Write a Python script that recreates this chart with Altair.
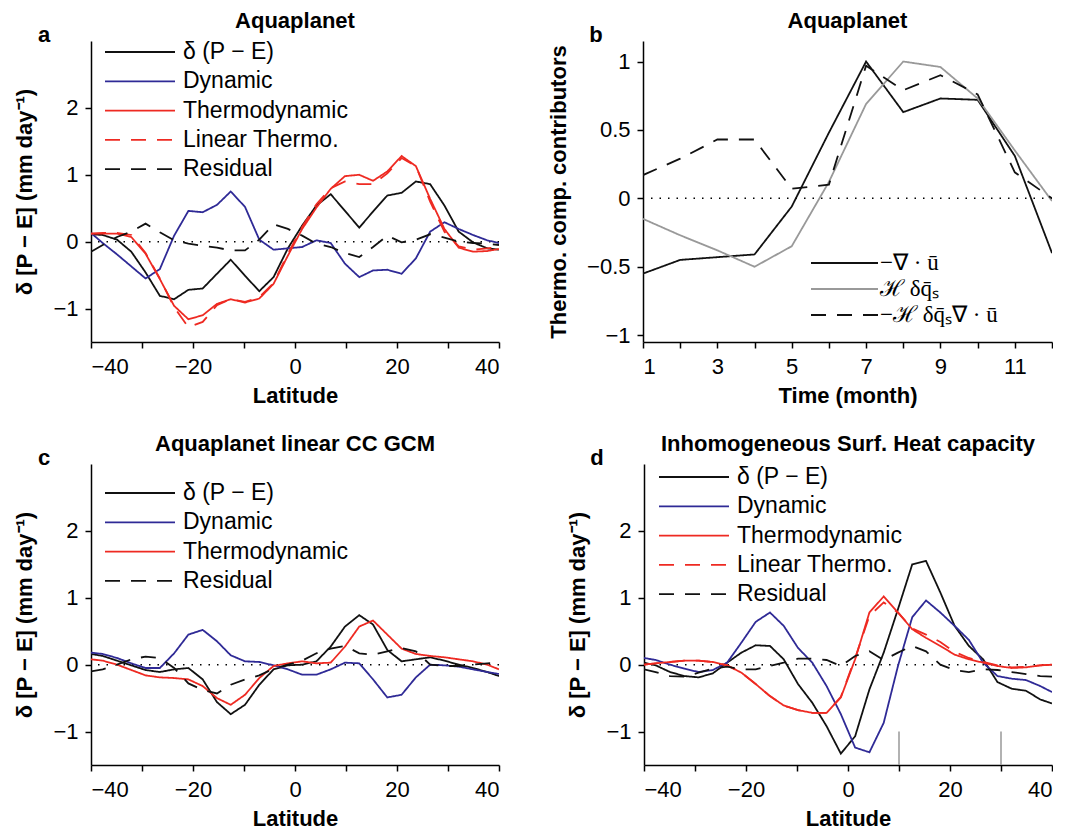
import altair as alt
import pandas as pd

FONT = "Liberation Sans"
BLACK = "#111111"
BLUE = "#2f2a96"
RED = "#ee2a22"
GRAY = "#999999"
SOLID = [1, 0]
DASH = [15, 11]

LAT = [-40, -37.7, -34.9, -32.1, -29.3, -26.5, -23.7, -20.9, -18.1, -15.3,
       -12.6, -9.8, -7.0, -4.2, -1.4, 1.4, 4.2, 7.0, 9.8, 12.6,
       15.3, 18.1, 20.9, 23.7, 26.5, 29.3, 32.1, 34.9, 37.7, 40]

# Panel a: Aquaplanet
A_PE = [0.11, 0.10, 0.03, -0.15, -0.46, -0.81, -0.86, -0.72, -0.70, -0.48,
        -0.27, -0.51, -0.74, -0.53, -0.10, 0.24, 0.54, 0.71, 0.46, 0.21,
        0.45, 0.69, 0.73, 0.90, 0.86, 0.54, 0.15, -0.01, -0.10, -0.12]
A_DYN = [0.13, -0.02, -0.19, -0.37, -0.55, -0.41, 0.09, 0.46, 0.44, 0.55,
         0.75, 0.52, 0.03, -0.12, -0.10, -0.08, 0.02, -0.02, -0.33, -0.53,
         -0.43, -0.42, -0.48, -0.25, 0.15, 0.29, 0.19, 0.10, 0.02, -0.02]
A_THERMO = [0.12, 0.12, 0.12, 0.07, -0.18, -0.56, -0.96, -1.16, -1.10, -0.93,
            -0.86, -0.91, -0.85, -0.63, -0.21, 0.19, 0.51, 0.79, 0.98, 1.00,
            0.91, 1.05, 1.28, 1.13, 0.64, 0.19, -0.09, -0.15, -0.14, -0.11]
A_LIN = [0.12, 0.13, 0.13, 0.10, -0.17, -0.55, -0.98, -1.28, -1.20, -0.95,
         -0.86, -0.90, -0.83, -0.62, -0.18, 0.22, 0.56, 0.80, 0.90, 0.86,
         0.86, 1.02, 1.25, 1.13, 0.60, 0.15, -0.07, -0.12, -0.10, -0.08]
A_RES = [-0.15, -0.05, 0.07, 0.15, 0.27, 0.14, 0.02, -0.03, -0.06, -0.09,
         -0.13, -0.13, 0.03, 0.26, 0.19, 0.09, -0.03, -0.08, -0.17, -0.23,
         -0.08, 0.09, -0.01, 0.03, 0.11, 0.06, 0.0, -0.02, -0.03, -0.05]

# Panel b: Aquaplanet thermodynamic components
MONTHS = [1, 2, 3, 4, 5, 6, 7, 8, 9, 10, 11, 12]
B_DIV = [-0.55, -0.45, -0.43, -0.41, -0.06, 0.48, 1.0, 0.63, 0.73, 0.72, 0.31, -0.40]
B_HQ = [-0.15, -0.27, -0.38, -0.50, -0.35, 0.12, 0.69, 1.0, 0.96, 0.73, 0.35, -0.02]
B_HQDIV = [0.17, 0.29, 0.43, 0.43, 0.07, 0.10, 0.97, 0.79, 0.90, 0.76, 0.19, 0.0]

# Panel c: Aquaplanet linear CC GCM
C_PE = [0.16, 0.13, 0.06, -0.01, -0.08, -0.11, -0.07, -0.05, -0.22, -0.56,
        -0.74, -0.60, -0.30, -0.07, -0.01, 0.0, 0.05, 0.27, 0.57, 0.74,
        0.60, 0.22, 0.05, 0.08, 0.11, 0.06, 0.0, -0.05, -0.11, -0.17]
C_DYN = [0.18, 0.16, 0.10, 0.02, -0.05, -0.05, 0.17, 0.45, 0.52, 0.35,
         0.14, 0.05, 0.04, -0.01, -0.07, -0.15, -0.15, -0.07, 0.03, 0.02,
         -0.22, -0.49, -0.45, -0.19, 0.0, -0.01, -0.03, -0.07, -0.11, -0.14]
C_THERMO = [0.08, 0.06, 0.0, -0.08, -0.16, -0.19, -0.20, -0.22, -0.32, -0.50,
            -0.60, -0.45, -0.20, -0.02, 0.02, 0.05, 0.02, 0.03, 0.27, 0.57,
            0.66, 0.45, 0.24, 0.16, 0.13, 0.11, 0.08, 0.05, 0.0, -0.07]
C_RES = [-0.10, -0.07, 0.0, 0.08, 0.12, 0.10, -0.05, -0.28, -0.38, -0.43,
         -0.30, -0.22, -0.16, -0.06, 0.0, 0.06, 0.17, 0.24, 0.28, 0.17,
         0.15, 0.20, 0.25, 0.20, 0.0, -0.02, -0.02, 0.0, 0.02, 0.03]

# Panel d: Inhomogeneous surface heat capacity
D_PE = [0.03, -0.01, -0.11, -0.17, -0.19, -0.13, 0.03, 0.18, 0.29, 0.28,
        0.08, -0.29, -0.57, -0.92, -1.33, -1.07, -0.37, 0.18, 0.83, 1.50,
        1.55, 1.08, 0.58, 0.28, 0.08, -0.26, -0.36, -0.39, -0.52, -0.58]
D_DYN = [0.10, 0.07, 0.0, -0.06, -0.11, -0.08, 0.03, 0.33, 0.64, 0.78,
         0.58, 0.25, 0.03, -0.32, -0.74, -1.24, -1.31, -0.87, -0.02, 0.71,
         0.96, 0.78, 0.58, 0.37, 0.03, -0.17, -0.21, -0.23, -0.32, -0.41]
D_THERMO = [0.0, 0.02, 0.04, 0.06, 0.06, 0.04, -0.01, -0.12, -0.29, -0.47,
            -0.61, -0.68, -0.72, -0.72, -0.49, 0.08, 0.78, 1.02, 0.78, 0.53,
            0.40, 0.28, 0.15, 0.08, 0.03, -0.02, -0.05, -0.04, -0.01, 0.0]
D_LIN = [0.0, 0.02, 0.04, 0.06, 0.06, 0.04, -0.01, -0.12, -0.29, -0.47,
         -0.61, -0.68, -0.72, -0.72, -0.48, 0.10, 0.73, 0.93, 0.78, 0.54,
         0.45, 0.34, 0.19, 0.10, 0.04, -0.01, -0.04, -0.03, -0.01, 0.0]
D_RES = [-0.07, -0.11, -0.17, -0.18, -0.12, -0.06, -0.03, -0.07, -0.07, -0.02,
         0.03, 0.09, 0.09, 0.07, -0.02, 0.13, 0.20, 0.07, 0.18, 0.28,
         0.20, 0.0, -0.08, -0.11, -0.07, -0.08, -0.11, -0.14, -0.17, -0.18]
D_MARK_LAT = [10, 30]

NAMES5 = ["δ (P − E)", "Dynamic", "Thermodynamic", "Linear Thermo.", "Residual"]
COLORS5 = [BLACK, BLUE, RED, RED, BLACK]
DASHES5 = [SOLID, SOLID, SOLID, DASH, DASH]

B_NAMES = ["−∇ · ū", "ℋ δq̄ₛ", "−ℋ δq̄ₛ∇ · ū"]
B_COLORS = [BLACK, GRAY, BLACK]
B_DASHES = [SOLID, SOLID, DASH]

W, H = 408, 301
YTITLE = "δ [P − E] (mm day⁻¹)"


def long_df(xs, names, lists, xname):
    rows = []
    for n, vals in zip(names, lists):
        for xv, v in zip(xs, vals):
            rows.append({xname: xv, "value": v, "series": n})
    return pd.DataFrame(rows)


def legend_layers(names, colors, dashes, x0, x1, xt, y0, dy, font, size):
    layers = []
    one = pd.DataFrame({"k": [0]})
    for i, (n, c, d) in enumerate(zip(names, colors, dashes)):
        y = y0 + i * dy
        layers.append(alt.Chart(one).mark_rule(color=c, strokeDash=d, strokeWidth=1.8).encode(
            x=alt.value(x0), x2=alt.value(x1), y=alt.value(y)))
        layers.append(alt.Chart(one).mark_text(text=n, align="left", baseline="middle", font=font,
                                               fontSize=size, color="black").encode(
            x=alt.value(xt), y=alt.value(y)))
    return layers


def zero_rule():
    return alt.Chart(pd.DataFrame({"v": [0]})).mark_rule(
        strokeDash=[1.5, 7], color="black", strokeWidth=1.5).encode(y="v:Q")


def letter(t):
    return alt.Chart(pd.DataFrame({"k": [0]})).mark_text(
        text=t, fontWeight="bold", fontSize=22, font=FONT, color="black").encode(
        x=alt.value(-47), y=alt.value(-6))


def ptitle(t):
    return alt.TitleParams(t, fontSize=22, fontWeight="bold", font=FONT,
                           color="black", offset=-9, frame="group")


def lat_panel(names, colors, dashes, lists, title, let, leg_y0, leg_x0, extra=None):
    df = long_df(LAT, names, lists, "lat")
    lines = alt.Chart(df).mark_line(strokeWidth=1.8, clip=True).encode(
        x=alt.X("lat:Q", scale=alt.Scale(domain=[-40, 40], nice=False),
                axis=alt.Axis(values=list(range(-40, 41, 10)), format="d",
                              labelExpr="datum.value % 20 == 0 ? datum.label : ''",
                              title="Latitude")),
        y=alt.Y("value:Q", scale=alt.Scale(domain=[-1.5, 3], nice=False),
                axis=alt.Axis(values=[-1, 0, 1, 2], format="d", title=YTITLE)),
        color=alt.Color("series:N", scale=alt.Scale(domain=names, range=colors), legend=None),
        strokeDash=alt.StrokeDash("series:N", scale=alt.Scale(domain=names, range=dashes), legend=None),
    )
    layers = [zero_rule()]
    if extra is not None:
        layers.append(extra)
    layers.append(lines)
    layers += legend_layers(names, colors, dashes, leg_x0, leg_x0 + 70, leg_x0 + 78,
                            leg_y0, 29.3, FONT, 23)
    layers.append(letter(let))
    return alt.layer(*layers).properties(width=W, height=H, title=ptitle(title))


pa = lat_panel(NAMES5, COLORS5, DASHES5, [A_PE, A_DYN, A_THERMO, A_LIN, A_RES],
               "Aquaplanet", "a", 11, 14)

pc = lat_panel(NAMES5[:3] + NAMES5[4:], [BLACK, BLUE, RED, BLACK], [SOLID, SOLID, SOLID, DASH],
               [C_PE, C_DYN, C_THERMO, C_RES], "Aquaplanet linear CC GCM", "c", 29, 14)

marks_d = alt.Chart(pd.DataFrame({"lat": D_MARK_LAT})).mark_rule(color=GRAY, strokeWidth=1.5).encode(
    x="lat:Q", y=alt.datum(-1.0), y2=alt.datum(-1.5))
pd_ = lat_panel(NAMES5, COLORS5, DASHES5, [D_PE, D_DYN, D_THERMO, D_LIN, D_RES],
                "Inhomogeneous Surf. Heat capacity", "d", 13, 15, extra=marks_d)

# panel b
dfb = long_df(MONTHS, B_NAMES, [B_DIV, B_HQ, B_HQDIV], "month")
lines_b = alt.Chart(dfb).mark_line(strokeWidth=1.8, clip=True).encode(
    x=alt.X("month:Q", scale=alt.Scale(domain=[1, 12], nice=False),
            axis=alt.Axis(values=MONTHS, format="d",
                          labelExpr="datum.value % 2 == 1 ? datum.label : ''",
                          title="Time (month)")),
    y=alt.Y("value:Q", scale=alt.Scale(domain=[-1.05, 1.15], nice=False),
            axis=alt.Axis(values=[-1, -0.5, 0, 0.5, 1], format="~g",
                          title="Thermo. comp. contributors")),
    color=alt.Color("series:N", scale=alt.Scale(domain=B_NAMES, range=B_COLORS), legend=None),
    strokeDash=alt.StrokeDash("series:N", scale=alt.Scale(domain=B_NAMES, range=B_DASHES), legend=None),
)
pb = alt.layer(
    zero_rule(), lines_b,
    *legend_layers(B_NAMES, B_COLORS, B_DASHES, 168, 235, 237, 222, 26, "Liberation Serif", 23),
    letter("b"),
).properties(width=409, height=H, title=ptitle("Aquaplanet"))

row1 = alt.hconcat(pa, pb, spacing=47).resolve_scale(
    x="independent", y="independent", color="independent", strokeDash="independent")
row2 = alt.hconcat(pc, pd_, spacing=66).resolve_scale(
    x="independent", y="independent", color="independent", strokeDash="independent")

chart = alt.vconcat(row1, row2, spacing=27).resolve_scale(
    x="independent", y="independent", color="independent", strokeDash="independent"
).properties(
    padding={"left": 5, "top": 2, "right": 0, "bottom": 0}
).configure_axis(
    labelFont=FONT, labelFontSize=22, labelColor="black",
    titleFont=FONT, titleFontSize=22, titleFontWeight="bold", titleColor="black",
    domainColor="black", domainWidth=1.5, tickColor="black", tickWidth=1.5, tickSize=6,
    grid=False
).configure_axisY(labelPadding=7, titlePadding=16).configure_axisX(
    labelPadding=8, titlePadding=8).configure_view(stroke=None)

chart.save("out.html", embed_options={"renderer": "svg", "actions": False})
